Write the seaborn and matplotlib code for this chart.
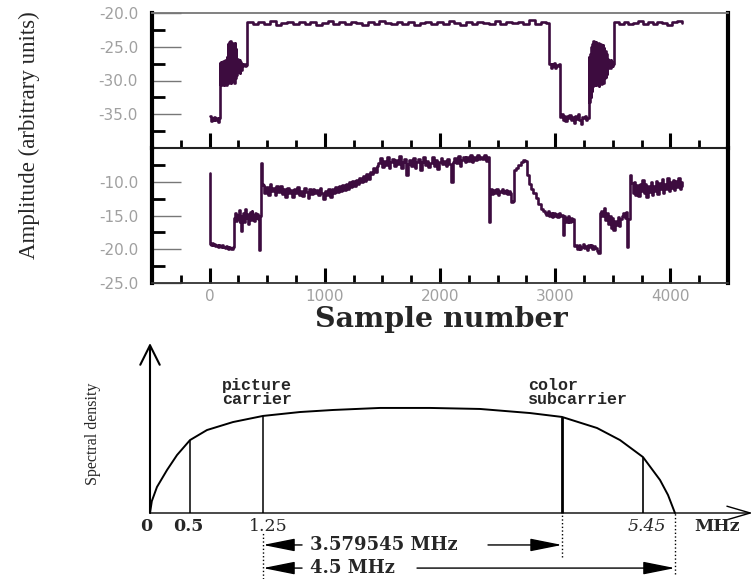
import numpy as np
import matplotlib
matplotlib.use("Agg")
import matplotlib.pyplot as plt
from matplotlib.ticker import MultipleLocator, FixedLocator, FormatStrFormatter
import seaborn as sns

# ---------------------------------------------------------------- data
# Each block: first sample number, sample step, amplitudes.
# ---- upper trace
top_lead_start, top_lead_step = 0, 10
top_lead = [-35.3, -36.0, -35.5, -35.9, -35.4, -35.8, -35.6, -36.1, -35.5]
top_burst1_start, top_burst1_step = 88, 5
top_burst1 = [-27.4, -30.5, -27.2, -30.7, -27.6, -30.2, -27.1, -30.6, -27.3, -30.4,
              -27.0, -30.7, -26.5, -30.2, -24.6, -30.4, -24.3, -29.8, -24.2, -30.3,
              -24.8, -30.1, -24.4, -29.9, -25.0, -30.4, -24.5, -29.6, -25.3, -29.2,
              -26.8, -28.8, -26.9, -28.6, -27.0, -28.9, -27.2, -28.4, -27.6]
top_shelf1_start, top_shelf1_step = 283, 10
top_shelf1 = [-27.8, -27.6, -27.9, -27.7]
top_flat1_start, top_flat1_step = 324, 50
top_flat1 = [-21.3, -21.7, -21.4, -21.6, -21.2, -21.8, -21.5, -21.3, -21.7, -21.4,
             -21.6, -21.3, -21.8, -21.5, -21.2, -21.6, -21.4, -21.7, -21.3, -21.5,
             -21.8, -21.4, -21.6, -21.2, -21.5, -21.7, -21.3, -21.6, -21.4, -21.8,
             -21.5, -21.3, -21.7, -21.4, -21.6, -21.2, -21.5, -21.8, -21.4, -21.6,
             -21.3, -21.5, -21.7, -21.2, -21.6, -21.4, -21.5, -21.3, -21.7, -21.1,
             -21.6, -21.4, -21.5]
top_shelf2_start, top_shelf2_step = 2950, 10
top_shelf2 = [-27.6, -28.1, -27.5, -27.9, -27.4, -28.2, -27.7, -27.9, -27.6]
top_low_start, top_low_step = 3040, 12
top_low = [-35.4, -35.0, -35.8, -35.3, -36.0, -35.2, -35.6, -35.1, -35.9, -35.4,
           -36.3, -35.3, -35.7, -35.0, -35.8, -36.5, -35.4, -35.6, -35.2, -35.9, -35.5]
top_burst2_start, top_burst2_step = 3292, 5
top_burst2 = [-26.5, -33.2, -26.0, -32.4, -25.1, -31.5, -24.6, -30.8, -24.2, -30.6,
              -24.5, -30.2, -24.3, -30.7, -24.8, -30.4, -24.4, -30.8, -24.9, -30.1,
              -24.6, -30.5, -25.0, -29.9, -24.7, -30.3, -25.2, -29.7, -25.6, -29.5,
              -26.0, -29.0, -26.8, -28.1, -26.9, -28.0, -27.1, -28.2, -27.0, -27.9,
              -27.3, -27.8, -27.5]
top_flat2_start, top_flat2_step = 3510, 42
top_flat2 = [-21.4, -21.7, -21.3, -21.6, -21.5, -21.2, -21.7, -21.4, -21.6, -21.3,
             -21.5, -21.8, -21.4, -21.2, -21.5]

# ---- lower trace
bot_spike_start, bot_spike_step = 0, 4
bot_spike = [-8.7, -19.2]
bot_low1_start, bot_low1_step = 10, 10
bot_low1 = [-19.3, -19.0, -19.4, -19.2, -19.5, -19.3, -19.6, -19.4, -19.5, -19.7,
            -19.4, -19.6, -19.8, -19.5, -19.7, -19.9, -19.6, -19.8, -20.0, -19.7]
bot_mid1_start, bot_mid1_step = 212, 8
bot_mid1 = [-15.3, -14.6, -15.8, -14.9, -15.5, -14.2, -16.0, -15.1, -17.3, -15.6,
            -14.7, -15.9, -14.1, -15.4, -14.8, -16.2, -15.0, -14.5, -15.7, -14.3,
            -15.2, -14.9, -15.8, -14.6, -15.3, -14.8, -15.5, -20.1, -15.0]
bot_jump_start, bot_jump_step = 446, 6
bot_jump = [-7.2, -10.3]
bot_plat1_start, bot_plat1_step = 460, 15
bot_plat1 = [-10.5, -11.6, -10.8, -11.9, -10.4, -11.3, -10.9, -12.0, -10.7, -11.5,
             -10.6, -11.8, -11.1, -12.2, -10.9, -11.6, -11.2, -12.3, -11.0, -11.7,
             -10.8, -11.9, -11.3, -12.1, -10.9, -11.5, -12.4, -11.1, -11.8, -11.0,
             -11.7, -11.2, -12.0, -10.9, -11.6, -12.5, -11.3, -11.9, -11.1, -12.2,
             -11.0, -11.7, -10.8, -11.5, -10.6, -11.4, -10.5, -11.2, -10.3, -11.0,
             -10.1, -10.8, -9.9, -10.6, -9.7, -10.3, -9.4, -10.1, -9.2, -9.9,
             -8.9, -9.6, -8.5, -8.9, -7.9, -8.6, -7.6]
bot_plat2_start, bot_plat2_step = 1465, 15
bot_plat2 = [-7.2, -6.5, -7.8, -6.9, -7.5, -6.3, -8.0, -7.1, -6.6, -7.7,
             -6.8, -7.4, -6.2, -7.9, -7.0, -6.6, -9.0, -7.3, -6.8, -7.6,
             -6.5, -7.9, -7.1, -6.7, -8.3, -7.0, -6.4, -7.5, -6.9, -7.8,
             -7.2, -6.3, -7.6, -6.8, -8.1, -7.0, -6.5, -7.4, -6.9, -7.7,
             -6.6, -7.3, -10.0, -7.0, -6.5, -7.2, -6.2, -7.6, -6.8, -6.4,
             -7.1, -6.3, -6.9, -6.1, -7.0, -6.4, -6.8, -6.0, -6.7, -6.3,
             -6.6, -6.1, -6.9, -6.4]
bot_drop_start, bot_drop_step = 2423, 7
bot_drop = [-16.0, -11.3]
bot_shelf1_start, bot_shelf1_step = 2440, 12
bot_shelf1 = [-11.0, -11.8, -11.2, -11.6, -11.1, -11.9, -11.3, -11.5, -11.0, -11.7,
              -11.4, -11.2, -11.8, -11.3, -11.6]
bot_hump_x = [2620, 2635, 2645, 2660, 2680, 2700, 2720, 2735, 2755, 2770, 2790, 2808,
              2830, 2852, 2875, 2896]
bot_hump = [-13.0, -12.8, -8.3, -7.9, -7.5, -7.1, -6.8, -6.9, -9.0, -10.4, -11.0, -11.6,
            -12.4, -13.3, -14.0, -14.3]
bot_shelf2_start, bot_shelf2_step = 2910, 12
bot_shelf2 = [-14.6, -14.9, -14.4, -15.1, -14.7, -15.2, -14.6, -15.0, -14.8, -15.2,
              -14.7, -15.1, -14.9]
bot_dip_x = [3066, 3075]
bot_dip = [-17.9, -15.0]
bot_shelf3_start, bot_shelf3_step = 3085, 12
bot_shelf3 = [-15.3, -15.9, -15.1, -16.0, -15.4, -15.8, -15.5]
bot_low2_start, bot_low2_step = 3167, 12
bot_low2 = [-19.5, -19.4, -19.9, -19.3, -20.0, -19.6, -19.2, -19.8, -19.5, -20.1,
            -19.4, -19.7, -19.3, -19.9, -19.5, -19.8, -20.2, -20.6]
bot_shelf4_start, bot_shelf4_step = 3386, 12
bot_shelf4 = [-14.6, -14.4, -15.1, -13.9, -15.6, -14.6, -16.2, -15.0, -16.8, -15.4,
              -17.1, -15.8, -16.4, -15.2, -16.6, -15.5, -15.0, -14.6, -15.3, -14.5]
bot_spike2_x = [3622, 3632]
bot_spike2 = [-19.6, -15.5]
bot_final_start, bot_final_step = 3648, 12
bot_final = [-9.0, -10.2, -11.6, -10.0, -11.9, -10.5, -12.1, -10.3, -11.4, -9.8, -11.7,
             -10.4, -12.3, -10.7, -11.5, -10.1, -12.0, -10.6, -11.3, -9.9, -11.8,
             -10.2, -11.1, -9.6, -11.6, -10.3, -11.0, -9.4, -11.4, -10.0, -10.9,
             -9.7, -11.2, -9.9, -10.8, -9.5, -11.0, -10.1, -10.6]

top_yticks = [-35.0, -30.0, -25.0, -20.0]
top_yminor = [-37.5, -32.5, -27.5, -22.5]
bot_yticks = [-25.0, -20.0, -15.0, -10.0]
bot_yminor = [-22.5, -17.5, -12.5, -7.5]

# ---- spectral-density sketch (schematic frequency axis)
curve_x = [0, 0.02, 0.076, 0.186, 0.295, 0.437, 0.622, 0.906, 1.234, 1.638, 1.998, 2.511,
           3.057, 3.603, 4.148, 4.498, 4.880, 5.131, 5.382, 5.568, 5.655, 5.731]
curve_y = [0, 0.07, 0.153, 0.253, 0.341, 0.429, 0.488, 0.535, 0.571, 0.594, 0.606, 0.618,
           0.618, 0.612, 0.588, 0.565, 0.500, 0.429, 0.329, 0.194, 0.106, 0.0]
mark_pos = [0.437, 1.234, 4.498, 5.382]
mark_top = [0.429, 0.571, 0.565, 0.329]
picture_carrier = 1.234
color_subcarrier = 4.498
band_edge = 5.731
freq_labels = ["0", "0.5", "1.25", "5.45"]
freq_label_pos = [-0.044, 0.415, 1.288, 5.426]


def block(start, step, vals):
    return list(start + step * np.arange(len(vals)))


top_x = (block(top_lead_start, top_lead_step, top_lead)
         + block(top_burst1_start, top_burst1_step, top_burst1)
         + block(top_shelf1_start, top_shelf1_step, top_shelf1)
         + block(top_flat1_start, top_flat1_step, top_flat1)
         + block(top_shelf2_start, top_shelf2_step, top_shelf2)
         + block(top_low_start, top_low_step, top_low)
         + block(top_burst2_start, top_burst2_step, top_burst2)
         + block(top_flat2_start, top_flat2_step, top_flat2))
top_y = (top_lead + top_burst1 + top_shelf1 + top_flat1 + top_shelf2 + top_low
         + top_burst2 + top_flat2)

bot_x = (block(bot_spike_start, bot_spike_step, bot_spike)
         + block(bot_low1_start, bot_low1_step, bot_low1)
         + block(bot_mid1_start, bot_mid1_step, bot_mid1)
         + block(bot_jump_start, bot_jump_step, bot_jump)
         + block(bot_plat1_start, bot_plat1_step, bot_plat1)
         + block(bot_plat2_start, bot_plat2_step, bot_plat2)
         + block(bot_drop_start, bot_drop_step, bot_drop)
         + block(bot_shelf1_start, bot_shelf1_step, bot_shelf1)
         + bot_hump_x
         + block(bot_shelf2_start, bot_shelf2_step, bot_shelf2)
         + bot_dip_x
         + block(bot_shelf3_start, bot_shelf3_step, bot_shelf3)
         + block(bot_low2_start, bot_low2_step, bot_low2)
         + block(bot_shelf4_start, bot_shelf4_step, bot_shelf4)
         + bot_spike2_x
         + block(bot_final_start, bot_final_step, bot_final))
bot_y = (bot_spike + bot_low1 + bot_mid1 + bot_jump + bot_plat1 + bot_plat2 + bot_drop
         + bot_shelf1 + bot_hump + bot_shelf2 + bot_dip + bot_shelf3 + bot_low2
         + bot_shelf4 + bot_spike2 + bot_final)

# ---------------------------------------------------------------- style
sns.set_style("white")
plt.rcParams["font.family"] = ["DejaVu Sans"]
plt.rcParams["axes.unicode_minus"] = False
plt.rcParams["xtick.bottom"] = True
plt.rcParams["ytick.left"] = True

W, H = 756, 579
fig = plt.figure(figsize=(W / 100, H / 100), dpi=100)
trace_color = "#3d0c3f"
L, R = 152 / W, 728 / W
ax1 = fig.add_axes([L, 1 - 148 / H, R - L, 135 / H])
ax2 = fig.add_axes([L, 1 - 283 / H, R - L, 135 / H])

sns.lineplot(x=top_x, y=top_y, ax=ax1, color=trace_color, lw=1.9, sort=False,
             estimator=None, drawstyle="steps-post")
sns.lineplot(x=bot_x, y=bot_y, ax=ax2, color=trace_color, lw=1.9, sort=False,
             estimator=None, drawstyle="steps-post")

ax1.set_ylim(-40, -20)
ax2.set_ylim(-25, -5)
ax1.yaxis.set_major_locator(FixedLocator(top_yticks))
ax1.yaxis.set_minor_locator(FixedLocator(top_yminor))
ax2.yaxis.set_major_locator(FixedLocator(bot_yticks))
ax2.yaxis.set_minor_locator(FixedLocator(bot_yminor))

for ax in (ax1, ax2):
    ax.set_xlim(-500, 4500)
    ax.set_xlabel("")
    ax.set_ylabel("")
    ax.xaxis.set_major_locator(MultipleLocator(1000))
    ax.xaxis.set_minor_locator(MultipleLocator(250))
    ax.yaxis.set_major_formatter(FormatStrFormatter("%.1f"))
    ax.tick_params(axis="x", which="major", direction="in", length=11, width=2.2,
                   color="black", bottom=True, top=False, labelsize=11,
                   labelcolor="#a0a0a0", pad=4)
    ax.tick_params(axis="x", which="minor", direction="in", length=5.5, width=2,
                   color="black", bottom=True, top=False)
    ax.tick_params(axis="y", which="major", direction="in", length=21, width=1.0,
                   color="#777777", left=True, right=False, labelsize=11,
                   labelcolor="#a0a0a0", pad=10)
    ax.tick_params(axis="y", which="minor", direction="in", length=9, width=2,
                   color="black", left=True, right=False)
    ax.spines["left"].set_linewidth(3)
    ax.spines["left"].set_color("black")
    ax.spines["right"].set_linewidth(3)
    ax.spines["right"].set_color("black")
    ax.set_facecolor("none")

ax1.tick_params(axis="x", which="both", labelbottom=False)
ax1.spines["top"].set_color("#777777")
ax1.spines["top"].set_linewidth(1.3)
ax1.spines["bottom"].set_color("#222222")
ax1.spines["bottom"].set_linewidth(1.5)
ax2.spines["top"].set_visible(False)
ax2.spines["bottom"].set_color("#333333")
ax2.spines["bottom"].set_linewidth(1.3)

fig.text(441 / W, 1 - 327 / H, "Sample number", ha="center", va="baseline",
         fontsize=20.5, fontweight="bold", family="DejaVu Serif")
fig.text(29 / W, 1 - 135 / H, "Amplitude (arbitrary units)", rotation=90,
         ha="center", va="center", fontsize=16.5, family="Liberation Serif")

# ---------------------------------------------------------------- sketch
ax3 = fig.add_axes([150 / W, 0, (W - 150) / W, (H - 335) / H])
ax3.set_xlim(0, (W - 150) / 91.6)
ax3.set_ylim((513 - H) / 170, (513 - 335) / 170)
ax3.axis("off")

sns.lineplot(x=curve_x, y=curve_y, ax=ax3, color="black", lw=1.4, sort=False,
             estimator=None)
ax3.vlines(mark_pos, 0, mark_top, colors="black", linewidth=[1.1, 1.1, 2.0, 1.2])

ax3.annotate("", xy=(0, 1.0), xytext=(0, 0),
             arrowprops=dict(arrowstyle="->,head_length=1.0,head_width=0.5",
                             lw=1.5, color="black", shrinkA=0, shrinkB=0,
                             mutation_scale=14))
ax3.annotate("", xy=(6.58, 0), xytext=(0, 0),
             arrowprops=dict(arrowstyle="->,head_length=1.2,head_width=0.35",
                             lw=1.0, color="black", shrinkA=0, shrinkB=0,
                             mutation_scale=14))

ax3.vlines([picture_carrier], -0.388, -0.118, colors="black", linestyles=":", lw=1)
ax3.vlines([color_subcarrier], -0.26, 0, colors="black", linestyles=":", lw=1)
ax3.vlines([band_edge], -0.36, 0, colors="black", linestyles=":", lw=1)

head = "-|>,head_length=1.1,head_width=0.22"
for y, right_from, right_to in [(-0.188, 3.69, color_subcarrier),
                                (-0.324, 2.915, band_edge)]:
    ax3.annotate("", xy=(picture_carrier, y), xytext=(1.66, y),
                 arrowprops=dict(arrowstyle=head, lw=1, color="black",
                                 shrinkA=0, shrinkB=0, mutation_scale=18))
    ax3.annotate("", xy=(right_to, y), xytext=(right_from, y),
                 arrowprops=dict(arrowstyle=head, lw=1, color="black",
                                 shrinkA=0, shrinkB=0, mutation_scale=18))

ax3.text(1.747, -0.188, "3.579545 MHz", ha="left", va="center", fontsize=13,
         fontweight="bold", family="DejaVu Serif")
ax3.text(1.747, -0.324, "4.5 MHz", ha="left", va="center", fontsize=13,
         fontweight="bold", family="DejaVu Serif")

for lab, pos in zip(freq_labels, freq_label_pos):
    bold = lab in ("0", "0.5")
    ax3.text(pos, -0.082, lab, ha="center", va="center", fontsize=12.5,
             fontweight="bold" if bold else "normal",
             style="italic" if lab == "5.45" else "normal", family="DejaVu Serif")
ax3.text(6.19, -0.082, "MHz", ha="center", va="center", fontsize=12.5,
         fontweight="bold", family="DejaVu Serif")

ax3.text(0.786, 0.794, "picture\ncarrier", ha="left", va="top", fontsize=12,
         fontweight="bold", family="Liberation Mono", linespacing=0.95)
ax3.text(4.127, 0.794, "color\nsubcarrier", ha="left", va="top", fontsize=12,
         fontweight="bold", family="Liberation Mono", linespacing=0.95)
ax3.text(-0.622, 0.465, "Spectral density", rotation=90, ha="center", va="center",
         fontsize=11.5, family="Liberation Serif")

fig.savefig("out.png", dpi=100)
